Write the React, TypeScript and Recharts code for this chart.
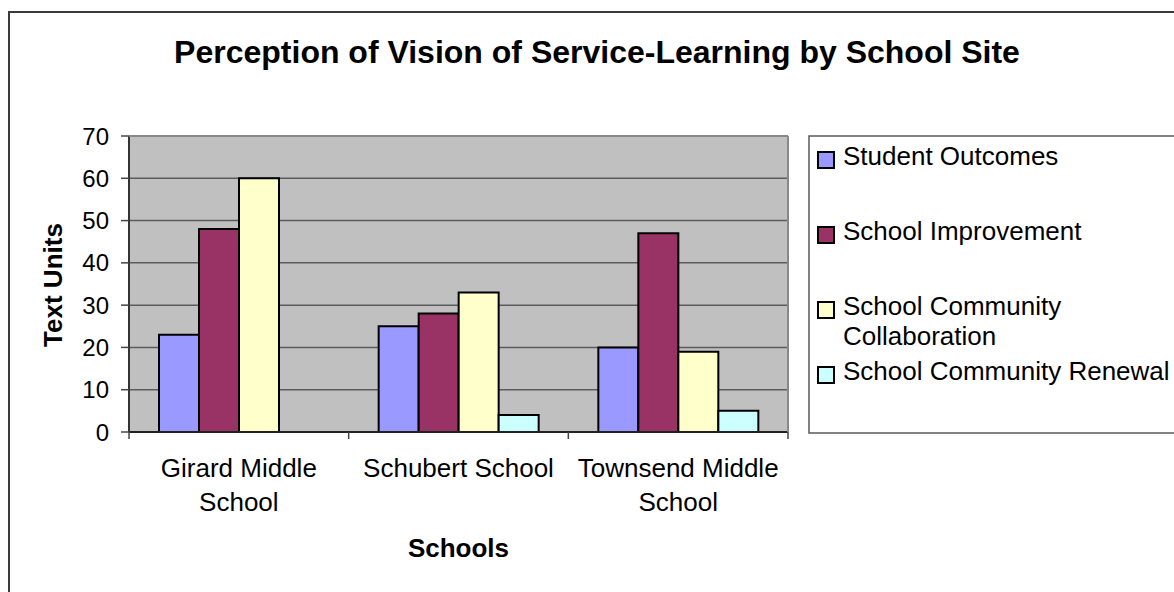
import React from "react";
import { BarChart, Bar, XAxis, YAxis, CartesianGrid } from "recharts";

// ---- data ----
const categories = ["Girard Middle School", "Schubert School", "Townsend Middle School"];
const categoryLabelLines = [["Girard Middle", "School"], ["Schubert School"], ["Townsend Middle", "School"]];
const studentOutcomes = [23, 25, 20];
const schoolImprovement = [48, 28, 47];
const communityCollaboration = [60, 33, 19];
const communityRenewal = [0, 4, 5];
const yTicks = [0, 10, 20, 30, 40, 50, 60, 70];
const seriesKeys = ["so", "si", "scc", "scr"];
const seriesNames = ["Student Outcomes", "School Improvement", "School Community Collaboration", "School Community Renewal"];
const legendLines = [["Student Outcomes"], ["School Improvement"], ["School Community", "Collaboration"], ["School Community Renewal"]];
const seriesColors = ["#9999FF", "#993366", "#FFFFCC", "#CCFFFF"];
const titleText = "Perception of Vision of Service-Learning by School Site";
const yTitle = "Text Units";
const xTitle = "Schools";

const data = categories.map((c, i) => ({
  name: c,
  so: studentOutcomes[i],
  si: schoolImprovement[i],
  scc: communityCollaboration[i],
  scr: communityRenewal[i],
}));

// ---- layout ----
const W = 1174;
const H = 592;
const PLOT_L = 129;
const PLOT_R = 788;
const PLOT_T = 136;
const PLOT_B = 432;
const Y_AXIS_W = 60;
const X_AXIS_H = 30;
const FONT = "'Liberation Sans', Arial, sans-serif";

const XTick = (props: any) => {
  const { x, index } = props;
  const half = (PLOT_R - PLOT_L) / categories.length / 2;
  const lines = categoryLabelLines[index] || [String(props.payload?.value)];
  return (
    <g>
      <line x1={x - half} x2={x - half} y1={PLOT_B} y2={PLOT_B + 7} stroke="#444" strokeWidth={1.5} />
      {index === categories.length - 1 && (
        <line x1={x + half} x2={x + half} y1={PLOT_B} y2={PLOT_B + 7} stroke="#444" strokeWidth={1.5} />
      )}
      <text textAnchor="middle" fontFamily={FONT} fontSize={26} fill="#000">
        {lines.map((l, i) => (
          <tspan key={i} x={x} y={PLOT_B + 45 + i * 34}>
            {l}
          </tspan>
        ))}
      </text>
    </g>
  );
};

const legendBaselines = [165, 240, 315, 380];

export default function App() {
  return (
    <div style={{ position: "absolute", left: 0, top: 0, width: W, height: H, overflow: "hidden", background: "#fff" }}>
      <div style={{ position: "absolute", left: 0, top: 0 }}>
        <BarChart
          width={W}
          height={H}
          data={data}
          barGap={0}
          barSize={40}
          margin={{ top: PLOT_T, right: W - PLOT_R, bottom: H - PLOT_B - X_AXIS_H, left: PLOT_L - Y_AXIS_W }}
        >
          <CartesianGrid vertical={false} fill="#C0C0C0" stroke="#5c5c5c" strokeWidth={1.5} fillOpacity={1} />
          <XAxis
            dataKey="name"
            interval={0}
            height={X_AXIS_H}
            tickLine={false}
            axisLine={{ stroke: "#222", strokeWidth: 2 }}
            tick={<XTick />}
          />
          <YAxis
            width={Y_AXIS_W}
            domain={[0, 70]}
            ticks={yTicks}
            interval={0}
            tickSize={8}
            tickMargin={12}
            axisLine={{ stroke: "#333", strokeWidth: 2 }}
            tickLine={{ stroke: "#444", strokeWidth: 1.5 }}
            tick={{ fill: "#000", fontSize: 24, fontFamily: FONT }}
          />
          {seriesKeys.map((k, i) => (
            <Bar
              key={k}
              dataKey={k}
              name={seriesNames[i]}
              fill={seriesColors[i]}
              stroke="#000"
              strokeWidth={2}
              isAnimationActive={false}
            />
          ))}
        </BarChart>
      </div>
      <svg
        width={W}
        height={H}
        style={{ position: "absolute", left: 0, top: 0, pointerEvents: "none" }}
        fontFamily={FONT}
      >
        {/* outer chart border */}
        <rect x={9} y={12} width={1300} height={700} fill="none" stroke="#3a3a3a" strokeWidth={2} />
        {/* plot area top & right border */}
        <line x1={PLOT_L} x2={PLOT_R} y1={PLOT_T} y2={PLOT_T} stroke="#888" strokeWidth={2} />
        <line x1={PLOT_R} x2={PLOT_R} y1={PLOT_T} y2={PLOT_B} stroke="#888" strokeWidth={2} />
        {/* title */}
        <text x={597} y={63} textAnchor="middle" fontSize={32} fontWeight="bold" fill="#000">
          {titleText}
        </text>
        {/* axis titles */}
        <text
          x={62}
          y={285}
          textAnchor="middle"
          fontSize={26}
          fontWeight="bold"
          fill="#000"
          transform="rotate(-90 62 285)"
        >
          {yTitle}
        </text>
        <text x={(PLOT_L + PLOT_R) / 2} y={557} textAnchor="middle" fontSize={26} fontWeight="bold" fill="#000">
          {xTitle}
        </text>
        {/* legend */}
        <rect x={809} y={136} width={500} height={297} fill="#fff" stroke="#5a5a5a" strokeWidth={1.5} />
        {seriesNames.map((n, i) => {
          const b = legendBaselines[i];
          return (
            <g key={n}>
              <rect x={818} y={b - 13} width={16} height={16} fill={seriesColors[i]} stroke="#000" strokeWidth={2} />
              <text fontSize={26} fill="#000">
                {legendLines[i].map((l, j) => (
                  <tspan key={j} x={843} y={b + j * 30}>
                    {l}
                  </tspan>
                ))}
              </text>
            </g>
          );
        })}
      </svg>
    </div>
  );
}
